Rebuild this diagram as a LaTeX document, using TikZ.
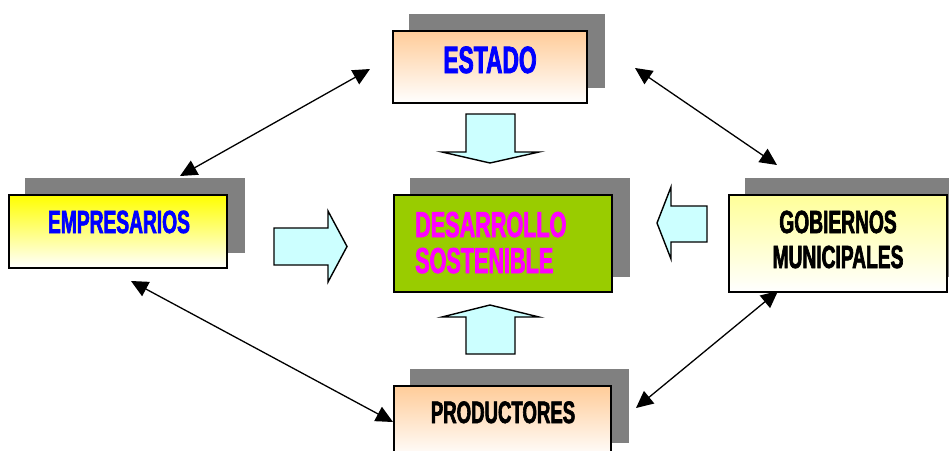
\documentclass[tikz,border=0pt]{standalone}
\usepackage{fontspec}
\newfontfamily\imp[FakeStretch=0.6,FakeBold=2]{Liberation Sans}
\usetikzlibrary{arrows.meta,backgrounds}
\definecolor{peach}{RGB}{255,204,153}
\definecolor{yel}{RGB}{255,255,0}
\definecolor{lyel}{RGB}{255,255,153}
\definecolor{lime}{RGB}{153,204,0}
\definecolor{cyanl}{RGB}{204,255,255}
\definecolor{shgray}{RGB}{128,128,128}
\definecolor{mag}{RGB}{255,0,255}
\definecolor{blu}{RGB}{0,0,255}
\tikzset{
  box/.style={draw=black,line width=1.8pt,inner sep=0pt},
  blockarrow/.style={draw=black,line width=1.4pt,fill=cyanl,line join=miter},
  conn/.style={line width=1.3pt,{Triangle[length=17pt,width=16pt]}-{Triangle[length=17pt,width=16pt]}},
  lbl/.style={font=\imp\bfseries,inner sep=0pt,anchor=base},
}
\begin{document}
\begin{tikzpicture}[x=1pt,y=-1pt]
\useasboundingbox (0,0) rectangle (949,450);
% boxes
\node[box,top color=peach,bottom color=white,minimum width=194pt,minimum height=72pt] (estado) at (490,67) {};
\node[box,top color=yel,bottom color=white,minimum width=218pt,minimum height=73pt] (empr) at (118,231.5) {};
\node[box,fill=lime,minimum width=218pt,minimum height=97pt] (des) at (503,243.5) {};
\node[box,top color=lyel,bottom color=white,minimum width=218pt,minimum height=97pt] (gob) at (838,243.5) {};
\node[box,top color=peach,bottom color=white,minimum width=217pt,minimum height=72pt] (prod) at (502.5,422) {};
% shadows
\begin{scope}[on background layer]
\foreach \n in {estado,empr,des,gob,prod}
  \fill[shgray] ([shift={(17,-16)}]\n.south west) rectangle ([shift={(17,-16)}]\n.north east);
\end{scope}
% texts
\node[lbl,text=blu,font=\imp\bfseries\fontsize{38}{42}\selectfont] (estado-t) at (490,73) {ESTADO};
\node[lbl,text=blu,font=\imp\bfseries\fontsize{32}{36}\selectfont] (empr-t) at (119,233) {EMPRESARIOS};
\node[lbl,text=mag,font=\imp\bfseries\fontsize{36}{40}\selectfont,anchor=base west] (des-t1) at (415,237) {DESARROLLO};
\node[lbl,text=mag,font=\imp\bfseries\fontsize{36}{40}\selectfont,anchor=base west] (des-t2) at (415,273) {SOSTENIBLE};
\node[lbl,text=black,font=\imp\bfseries\fontsize{32}{36}\selectfont] (gob-t1) at (838,233) {GOBIERNOS};
\node[lbl,text=black,font=\imp\bfseries\fontsize{32}{36}\selectfont] (gob-t2) at (838,268) {MUNICIPALES};
\node[lbl,text=black,font=\imp\bfseries\fontsize{31}{35}\selectfont] (prod-t) at (503,423) {PRODUCTORES};
% block arrows
\draw[blockarrow] (466,114) -- (515,114) -- (515,152) -- (539,152) -- (490,163) -- (442,152) -- (466,152) -- cycle;
\draw[blockarrow] (466,354) -- (515,354) -- (515,317) -- (539,317) -- (490,305) -- (442,317) -- (466,317) -- cycle;
\draw[blockarrow] (274,228) -- (328,228) -- (328,211) -- (347,246.5) -- (328,282) -- (328,265) -- (274,265) -- cycle;
\draw[blockarrow] (707,206) -- (671,206) -- (671,187) -- (657,223) -- (671,259) -- (671,242) -- (707,242) -- cycle;
% connectors
\coordinate (a1) at (370,69);
\coordinate (a2) at (180,176);
\coordinate (b1) at (635,68);
\coordinate (b2) at (777,165);
\coordinate (c1) at (131,281);
\coordinate (c2) at (393,422);
\coordinate (d1) at (778,291);
\coordinate (d2) at (636,408);
\draw[conn] (a1) -- (a2);
\draw[conn] (b1) -- (b2);
\draw[conn] (c1) -- (c2);
\draw[conn] (d1) -- (d2);
\end{tikzpicture}
\end{document}
